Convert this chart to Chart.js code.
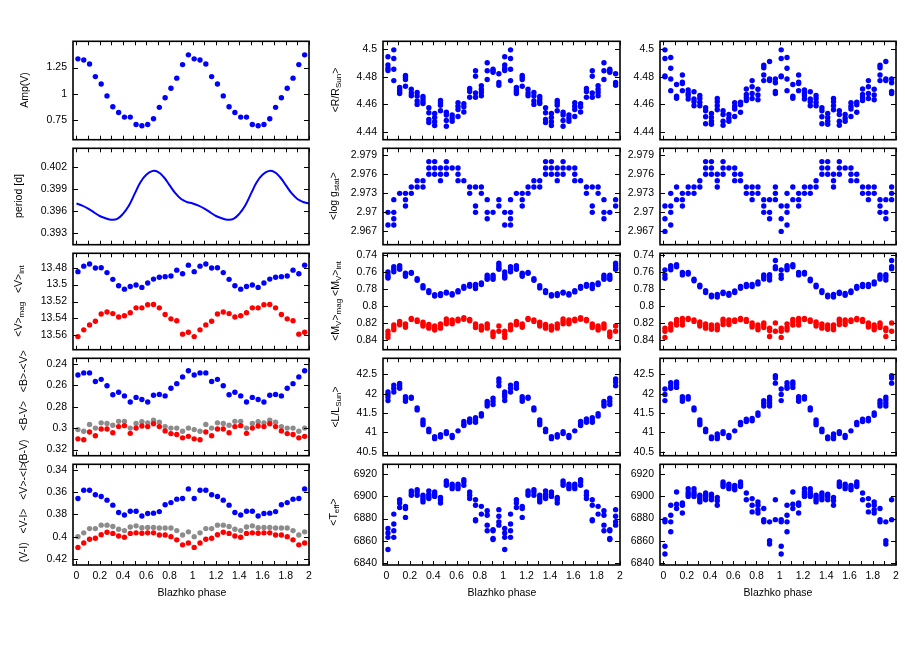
<!DOCTYPE html>
<html lang="en">
<head>
    <meta charset="UTF-8">
    <title>Blazhko phase panels</title>
    <script src="https://cdn.jsdelivr.net/npm/chart.js"></script>
    <style>
        body { margin: 0; background: #fff; }
        #wrap { position: relative; width: 905px; height: 656px; overflow: hidden; font-family: "Liberation Sans", Arial, sans-serif; }
        canvas { position: absolute; }
        .lab { position: absolute; white-space: nowrap; font-size: 10.5px; color: #000; line-height: 1; }
        .rot { transform: translate(-50%, -50%) rotate(-90deg); }
        .hor { transform: translate(-50%, -50%); }
        .lab sub { font-size: 8px; vertical-align: -2px; line-height: 0; }
    </style>
</head>
<body>
<div id="wrap"></div>
<script>
    // Blazhko phase bins (one cycle, the plot shows it twice)
    const phase = [0.0125, 0.0625, 0.1125, 0.1625, 0.2125, 0.2625, 0.3125, 0.3625, 0.4125, 0.4625,
                   0.5125, 0.5625, 0.6125, 0.6625, 0.7125, 0.7625, 0.8125, 0.8625, 0.9125, 0.9625];

    // left column
    const amp = [1.333, 1.322, 1.284, 1.164, 1.094, 0.980, 0.877, 0.822, 0.778, 0.778,
                 0.708, 0.696, 0.708, 0.763, 0.871, 0.962, 1.053, 1.149, 1.278, 1.371];
    const periodPhase = [0, 0.05, 0.1, 0.15, 0.2, 0.25, 0.3, 0.35, 0.4, 0.45,
                         0.5, 0.55, 0.6, 0.65, 0.7, 0.75, 0.8, 0.85, 0.9, 0.95];
    const periodVal = [0.3970, 0.3967, 0.3963, 0.3958, 0.3953, 0.3950, 0.3948, 0.3949, 0.3956, 0.3967,
                       0.3983, 0.3999, 0.4009, 0.4014, 0.4013, 0.4006, 0.3995, 0.3984, 0.3976, 0.3972];
    const vInt = [13.4847, 13.4782, 13.4757, 13.4804, 13.4800, 13.4858, 13.4938, 13.5014, 13.5054, 13.5022,
                  13.5004, 13.5033, 13.4982, 13.4935, 13.4913, 13.4906, 13.4898, 13.4829, 13.4872, 13.4770];
    const vMag = [13.5615, 13.5535, 13.5477, 13.5434, 13.5347, 13.5325, 13.5343, 13.5383, 13.5369, 13.5333,
                  13.5275, 13.5275, 13.5239, 13.5235, 13.5275, 13.5354, 13.5405, 13.5427, 13.5586, 13.5564];
    const bvInt = [0.2506, 0.2486, 0.2486, 0.2566, 0.2546, 0.2606, 0.2689, 0.2666, 0.2700, 0.2757,
                   0.2714, 0.2734, 0.2757, 0.2694, 0.2686, 0.2700, 0.2629, 0.2586, 0.2523, 0.2466];
    const bvMean = [0.3014, 0.3029, 0.2966, 0.3000, 0.2951, 0.2957, 0.2974, 0.2937, 0.2937, 0.3000,
                    0.2957, 0.2940, 0.2951, 0.2926, 0.2946, 0.2986, 0.3000, 0.3000, 0.3029, 0.3000];
    const bvMag = [0.3100, 0.3109, 0.3037, 0.3071, 0.3009, 0.3009, 0.3043, 0.2986, 0.2977, 0.3049,
                   0.3000, 0.2980, 0.2986, 0.2960, 0.2986, 0.3026, 0.3051, 0.3060, 0.3091, 0.3077];
    const viInt = [0.3657, 0.3583, 0.3583, 0.3623, 0.3640, 0.3672, 0.3717, 0.3783, 0.3806, 0.3772,
                   0.3772, 0.3814, 0.3792, 0.3789, 0.3775, 0.3714, 0.3694, 0.3663, 0.3657, 0.3571];
    const viMean = [0.4000, 0.3966, 0.3928, 0.3928, 0.3897, 0.3897, 0.3909, 0.3934, 0.3946, 0.3914,
                    0.3903, 0.3920, 0.3917, 0.3917, 0.3923, 0.3923, 0.3923, 0.3946, 0.3986, 0.3957];
    const viMag = [0.4097, 0.4057, 0.4023, 0.4014, 0.3983, 0.3960, 0.3971, 0.3994, 0.4006, 0.3971,
                   0.3966, 0.3969, 0.3966, 0.3966, 0.3986, 0.3986, 0.4000, 0.4029, 0.4074, 0.4057];

    // middle column (several values per phase bin)
    const radA = [[4.4946, 4.4886, 4.4862, 4.4846], [4.4996, 4.4933, 4.4855, 4.4773], [4.4723, 4.4706, 4.4692, 4.4679],
                  [4.4810, 4.4795, 4.4780, 4.4732], [4.4710, 4.4683, 4.4663], [4.4686, 4.4661, 4.4625, 4.4600],
                  [4.4657, 4.4639, 4.4620, 4.4607], [4.4576, 4.4540, 4.4491, 4.4469], [4.4534, 4.4505, 4.4474, 4.4447],
                  [4.4628, 4.4612, 4.4594, 4.4554], [4.4543, 4.4523, 4.4483, 4.4442], [4.4523, 4.4500, 4.4478],
                  [4.4612, 4.4587, 4.4563, 4.4512], [4.4605, 4.4583, 4.4545], [4.4715, 4.4694, 4.4652],
                  [4.4844, 4.4804, 4.4683, 4.4652], [4.4735, 4.4710, 4.4688, 4.4663], [4.4902, 4.4844, 4.4781],
                  [4.4855, 4.4844, 4.4833], [4.4822, 4.4759, 4.4739]];
    const loggA = [[2.970, 2.968], [2.972, 2.970, 2.969, 2.968], [2.973], [2.973, 2.972, 2.971], [2.974, 2.973],
                   [2.975, 2.974], [2.975, 2.974], [2.978, 2.977, 2.976], [2.978, 2.977, 2.976], [2.977, 2.976, 2.975],
                   [2.978, 2.977, 2.976], [2.977], [2.977, 2.976, 2.975], [2.975], [2.974, 2.973],
                   [2.974, 2.971, 2.970], [2.974, 2.973], [2.972, 2.970, 2.969], [2.970], [2.972, 2.971]];
    const mvIntA = [[0.7594, 0.7627, 0.7652, 0.7667], [0.7534, 0.7563, 0.7594], [0.7520, 0.7542, 0.7563],
                    [0.7609, 0.7627, 0.7645], [0.7600, 0.7610], [0.7674, 0.7692], [0.7757, 0.7783], [0.7815, 0.7837],
                    [0.7862, 0.7880], [0.7852, 0.7873], [0.7833, 0.7844], [0.7852, 0.7866], [0.7815, 0.7830],
                    [0.7765, 0.7787], [0.7743, 0.7765], [0.7743, 0.7768, 0.7790], [0.7725, 0.7743],
                    [0.7634, 0.7660, 0.7681], [0.7634, 0.7660, 0.7681], [0.7491, 0.7520, 0.7549, 0.7563]];
    const mvMagA = [[0.8295, 0.8331, 0.8367], [0.8219, 0.8248, 0.8277], [0.8178, 0.8200, 0.8219],
                    [0.8207, 0.8229, 0.8248], [0.8142, 0.8156], [0.8160, 0.8178], [0.8189, 0.8211, 0.8233],
                    [0.8215, 0.8236, 0.8258], [0.8233, 0.8258, 0.8280], [0.8207, 0.8233, 0.8258],
                    [0.8149, 0.8178, 0.8207], [0.8160, 0.8185, 0.8207], [0.8153, 0.8171], [0.8135, 0.8153],
                    [0.8156, 0.8171], [0.8207, 0.8229, 0.8251], [0.8233, 0.8258, 0.8280], [0.8207, 0.8233, 0.8258],
                    [0.8302, 0.8327, 0.8356], [0.8233, 0.8295]];
    const lumA = [[42.04, 41.98, 41.91, 41.82], [42.22, 42.14, 42.04], [42.26, 42.20, 42.14], [41.92, 41.86, 41.80],
                  [41.91, 41.88], [41.63, 41.58], [41.32, 41.26, 41.20], [41.08, 41.02], [40.89, 40.84], [40.94, 40.88],
                  [41.02, 40.97], [40.92, 40.87], [41.04], [41.28, 41.22, 41.18], [41.35, 41.30, 41.26],
                  [41.38, 41.32, 41.26], [41.48, 41.42], [41.80, 41.74, 41.68], [41.88, 41.80, 41.72], [42.38, 42.30, 42.20]];
    const teffA = [[6871, 6867, 6863, 6852], [6884, 6875, 6869, 6863], [6897, 6894, 6890], [6891, 6889, 6881],
                   [6905, 6903, 6901], [6906, 6904, 6901], [6901, 6899, 6897, 6895], [6905, 6902, 6900, 6898],
                   [6904, 6902, 6900], [6899, 6897, 6894], [6914, 6912, 6910], [6911, 6909, 6907], [6911, 6909, 6907],
                   [6915, 6913, 6910], [6904, 6901, 6898], [6897, 6892, 6879, 6878], [6891, 6884],
                   [6887, 6883, 6874, 6869], [6870, 6869, 6862, 6861], [6888, 6882, 6877, 6874]];

    // right column
    const radB = [[4.4996, 4.4933, 4.4806, 4.4800], [4.4940, 4.4862, 4.4784, 4.4700], [4.4744, 4.4660, 4.4645],
                  [4.4813, 4.4762, 4.4751, 4.4700], [4.4705, 4.4679, 4.4665, 4.4639], [4.4692, 4.4639, 4.4620, 4.4590],
                  [4.4665, 4.4643, 4.4616, 4.4590], [4.4576, 4.4554, 4.4510, 4.4460], [4.4534, 4.4505, 4.4478, 4.4456],
                  [4.4643, 4.4620, 4.4590, 4.4561], [4.4554, 4.4527, 4.4478, 4.4449], [4.4527, 4.4500, 4.4478],
                  [4.4612, 4.4587, 4.4567, 4.4512], [4.4616, 4.4598, 4.4543], [4.4712, 4.4672, 4.4650, 4.4628],
                  [4.4773, 4.4728, 4.4679, 4.4643], [4.4710, 4.4668, 4.4634], [4.4884, 4.4866, 4.4813, 4.4773],
                  [4.4911, 4.4784, 4.4773], [4.4784, 4.4757, 4.4695, 4.4679]];
    const loggB = [[2.971, 2.969, 2.967], [2.973, 2.971, 2.970, 2.968], [2.974, 2.972], [2.973, 2.972, 2.971],
                   [2.974, 2.973], [2.974, 2.973], [2.975, 2.974], [2.978, 2.977, 2.976], [2.978, 2.977, 2.976],
                   [2.976, 2.975, 2.974], [2.978, 2.977, 2.976], [2.977], [2.977, 2.976, 2.975], [2.976, 2.975],
                   [2.974, 2.973], [2.974, 2.973, 2.972], [2.974, 2.973], [2.972, 2.971, 2.970],
                   [2.972, 2.970, 2.969], [2.974, 2.973, 2.972]];
    const mvIntB = [[0.7570, 0.7630, 0.7670], [0.7520, 0.7545, 0.7570], [0.7510, 0.7534], [0.7600, 0.7630],
                    [0.7600, 0.7620], [0.7680, 0.7700], [0.7750, 0.7770], [0.7815, 0.7837], [0.7870, 0.7887],
                    [0.7860, 0.7890], [0.7833, 0.7850], [0.7850, 0.7870], [0.7820, 0.7837], [0.7765, 0.7787],
                    [0.7743, 0.7768], [0.7743, 0.7768], [0.7714, 0.7736], [0.7630, 0.7652, 0.7678],
                    [0.7627, 0.7655, 0.7690], [0.7460, 0.7534, 0.7556]];
    const mvMagB = [[0.8258, 0.8295, 0.8367], [0.8207, 0.8251, 0.8280], [0.8156, 0.8185, 0.8220],
                    [0.8142, 0.8178, 0.8220], [0.8142, 0.8156], [0.8160, 0.8178], [0.8185, 0.8207, 0.8233],
                    [0.8207, 0.8233, 0.8258], [0.8220, 0.8244, 0.8270], [0.8220, 0.8251, 0.8277],
                    [0.8153, 0.8178, 0.8215], [0.8160, 0.8185, 0.8215], [0.8160, 0.8178], [0.8142, 0.8160],
                    [0.8156, 0.8178], [0.8196, 0.8220, 0.8244], [0.8220, 0.8251, 0.8277], [0.8196, 0.8220, 0.8251],
                    [0.8258, 0.8287, 0.8356], [0.8196, 0.8295]];
    const lumB = [[42.12, 41.98, 41.82], [42.28, 42.20, 42.14], [42.30, 42.24, 42.16], [41.92, 41.86, 41.80],
                  [41.92, 41.86], [41.63, 41.58], [41.32, 41.26, 41.20], [41.08, 41.02], [40.88, 40.84],
                  [40.96, 40.90, 40.84], [41.02, 40.97], [40.92, 40.87], [41.04], [41.26, 41.20], [41.34, 41.28],
                  [41.36, 41.30], [41.50, 41.44], [41.82, 41.75, 41.68], [41.91, 41.84, 41.76, 41.68], [42.46, 42.40, 42.27]];
    const teffB = [[6879, 6877, 6855, 6848], [6892, 6883, 6877, 6868], [6904, 6893, 6889], [6894, 6892, 6885],
                   [6907, 6904, 6902, 6900], [6907, 6904, 6902, 6900], [6901, 6899, 6897, 6895], [6903, 6901, 6899, 6897],
                   [6902, 6900, 6897], [6899, 6896, 6892], [6913, 6911, 6909], [6911, 6909, 6907], [6910, 6908, 6906],
                   [6913, 6911, 6909], [6903, 6897], [6898, 6892, 6886], [6895, 6892, 6888, 6885],
                   [6889, 6879, 6877], [6877, 6860, 6857], [6897, 6879]];

    // tick values
    const xLabelTicks = [0, 0.2, 0.4, 0.6, 0.8, 1, 1.2, 1.4, 1.6, 1.8, 2];
    const xMinorTicks = [0, 0.1, 0.2, 0.3, 0.4, 0.5, 0.6, 0.7, 0.8, 0.9, 1, 1.1, 1.2, 1.3, 1.4, 1.5, 1.6, 1.7, 1.8, 1.9, 2];
    const ampTicks = [0.75, 1, 1.25];
    const periodTicks = [0.393, 0.396, 0.399, 0.402];
    const vTicks = [13.48, 13.5, 13.52, 13.54, 13.56];
    const bvTicks = [0.24, 0.26, 0.28, 0.3, 0.32];
    const viTicks = [0.34, 0.36, 0.38, 0.4, 0.42];
    const radTicks = [4.44, 4.46, 4.48, 4.5];
    const loggTicks = [2.967, 2.97, 2.973, 2.976, 2.979];
    const mvTicks = [0.74, 0.76, 0.78, 0.8, 0.82, 0.84];
    const lumTicks = [40.5, 41, 41.5, 42, 42.5];
    const teffTicks = [6840, 6860, 6880, 6900, 6920];

    const BLUE = '#0000ff', RED = '#ff0000', GREY = '#8c8c8c';
    const FONT = { family: '"Liberation Sans", Arial, sans-serif', size: 10.5 };
    const wrap = document.getElementById('wrap');

    const cols = [{ l: 73, w: 236 }, { l: 383, w: 237 }, { l: 660, w: 236 }];
    const rows = [{ t: 37, h: 107 }, { t: 144, h: 105 }, { t: 249, h: 105 }, { t: 354, h: 106 }, { t: 460, h: 105 }];

    function twoCycles(vals) {
        const pts = [];
        [0, 1].forEach(c => vals.forEach((v, i) => {
            [].concat(v).forEach(y => pts.push({ x: phase[i] + c, y: y }));
        }));
        return pts;
    }

    function dots(vals, color) {
        return { data: twoCycles(vals), backgroundColor: color, pointRadius: 2.7, pointBorderWidth: 0, pointHoverRadius: 2.7 };
    }

    // frame + inward ticks on all four sides
    const framePlugin = {
        id: 'frame',
        afterDraw(chart) {
            const { ctx, chartArea: a, scales: { x, y } } = chart;
            ctx.save();
            ctx.strokeStyle = '#000';
            ctx.lineWidth = 1;
            ctx.beginPath();
            xMinorTicks.forEach(v => {
                const px = Math.round(x.getPixelForValue(v)) + 0.5;
                ctx.moveTo(px, a.top); ctx.lineTo(px, a.top + 4);
                ctx.moveTo(px, a.bottom); ctx.lineTo(px, a.bottom - 4);
            });
            y.ticks.forEach(t => {
                const py = Math.round(y.getPixelForValue(t.value)) + 0.5;
                ctx.moveTo(a.left, py); ctx.lineTo(a.left + 5, py);
                ctx.moveTo(a.right, py); ctx.lineTo(a.right - 5, py);
            });
            ctx.stroke();
            ctx.lineWidth = 1.6;
            ctx.strokeRect(a.left, a.top, a.right - a.left, a.bottom - a.top);
            ctx.restore();
        }
    };

    function panel(col, row, opt) {
        const c = cols[col], r = rows[row];
        const padL = 48, padT = 8, padR = 12;
        const xh = opt.xlab ? 24 : 8;
        const cv = document.createElement('canvas');
        cv.width = c.w + padL + padR;
        cv.height = r.h + padT + xh;
        cv.style.left = (c.l - padL) + 'px';
        cv.style.top = (r.t - padT) + 'px';
        wrap.appendChild(cv);
        new Chart(cv, {
            type: 'scatter',
            data: { datasets: opt.datasets },
            options: {
                responsive: false,
                animation: false,
                events: [],
                layout: { padding: { left: 0, top: padT, right: padR, bottom: 0 }, autoPadding: false },
                plugins: { legend: { display: false }, tooltip: { enabled: false } },
                scales: {
                    x: {
                        type: 'linear', min: -0.03, max: 2,
                        grid: { display: false, drawTicks: false }, border: { display: false },
                        afterBuildTicks: s => { s.ticks = xLabelTicks.map(v => ({ value: v })); },
                        afterFit: s => { s.height = xh; },
                        ticks: { display: !!opt.xlab, padding: 5, color: '#000', font: FONT, maxRotation: 0,
                                 callback: v => String(+v.toFixed(1)) }
                    },
                    y: {
                        type: 'linear', min: opt.min, max: opt.max, reverse: !!opt.reverse,
                        grid: { display: false, drawTicks: false }, border: { display: false },
                        afterBuildTicks: s => { s.ticks = opt.ticks.map(v => ({ value: v })); },
                        afterFit: s => { s.width = padL; },
                        ticks: { padding: 6, color: '#000', font: FONT, callback: v => String(+v.toFixed(4)) }
                    }
                }
            },
            plugins: [framePlugin]
        });
    }

    function label(html, x, y, rotate) {
        const d = document.createElement('div');
        d.className = 'lab ' + (rotate ? 'rot' : 'hor');
        d.style.left = x + 'px';
        d.style.top = y + 'px';
        d.innerHTML = html;
        wrap.appendChild(d);
    }

    // period line, two cycles
    const periodPts = [];
    [0, 1].forEach(c => periodPhase.forEach((p, i) => periodPts.push({ x: p + c, y: periodVal[i] })));
    periodPts.push({ x: 2, y: periodVal[0] });

    // left column
    panel(0, 0, { min: 0.563, max: 1.5, ticks: ampTicks, datasets: [dots(amp, BLUE)] });
    panel(0, 1, { min: 0.3914, max: 0.4045, ticks: periodTicks, datasets: [{
        data: periodPts, showLine: true, borderColor: BLUE, borderWidth: 2, pointRadius: 0, tension: 0.4 }] });
    panel(0, 2, { min: 13.463, max: 13.577, reverse: true, ticks: vTicks,
                  datasets: [dots(vMag, RED), dots(vInt, BLUE)] });
    panel(0, 3, { min: 0.235, max: 0.3257, reverse: true, ticks: bvTicks,
                  datasets: [dots(bvMag, RED), dots(bvMean, GREY), dots(bvInt, BLUE)] });
    panel(0, 4, { min: 0.335, max: 0.4255, reverse: true, ticks: viTicks, xlab: true,
                  datasets: [dots(viMag, RED), dots(viMean, GREY), dots(viInt, BLUE)] });

    // middle and right columns
    [[1, radA, loggA, mvIntA, mvMagA, lumA, teffA], [2, radB, loggB, mvIntB, mvMagB, lumB, teffB]].forEach(s => {
        const col = s[0];
        panel(col, 0, { min: 4.4344, max: 4.5058, ticks: radTicks, datasets: [dots(s[1], BLUE)] });
        panel(col, 1, { min: 2.9649, max: 2.9801, ticks: loggTicks, datasets: [dots(s[2], BLUE)] });
        panel(col, 2, { min: 0.7375, max: 0.8512, reverse: true, ticks: mvTicks,
                        datasets: [dots(s[4], RED), dots(s[3], BLUE)] });
        panel(col, 3, { min: 40.40, max: 42.91, ticks: lumTicks, datasets: [dots(s[5], BLUE)] });
        panel(col, 4, { min: 6838, max: 6929, ticks: teffTicks, xlab: true, datasets: [dots(s[6], BLUE)] });
    });

    // axis titles
    label('Amp(V)', 24, 90, true);
    label('period [d]', 18, 196, true);
    label('&lt;V&gt;<sub>mag</sub>&nbsp;&nbsp;&nbsp;&lt;V&gt;<sub>int</sub>', 18, 301, true);
    label('(B-V)&nbsp;&nbsp;&nbsp;&lt;B-V&gt;&nbsp;&nbsp;&nbsp;&lt;B&gt;-&lt;V&gt;', 23, 407, true);
    label('(V-I)&nbsp;&nbsp;&nbsp;&lt;V-I&gt;&nbsp;&nbsp;&nbsp;&lt;V&gt;-&lt;I&gt;', 23, 512, true);
    label('&lt;R/R<sub>Sun</sub>&gt;', 335, 90, true);
    label('&lt;log g<sub>stat</sub>&gt;', 333, 196, true);
    label('&lt;M<sub>V</sub>&gt;<sub>mag</sub> &lt;M<sub>V</sub>&gt;<sub>int</sub>', 335, 301, true);
    label('&lt;L/L<sub>Sun</sub>&gt;', 335, 407, true);
    label('&lt;T<sub>eff</sub>&gt;', 333, 512, true);
    label('Blazhko phase', 192, 592, false);
    label('Blazhko phase', 502, 592, false);
    label('Blazhko phase', 778, 592, false);
</script>
</body>
</html>
